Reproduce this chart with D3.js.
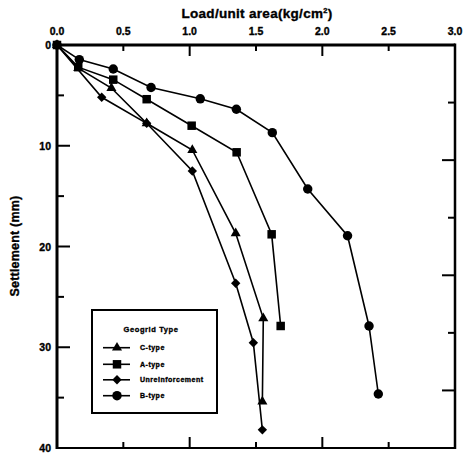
<!DOCTYPE html>
<html>
<head>
<meta charset="utf-8">
<script src="https://cdn.jsdelivr.net/npm/d3@7"></script>
<style>
  html, body { margin: 0; padding: 0; background: #fff; }
  svg { display: block; }
  text { font-family: "Liberation Sans", Arial, sans-serif; font-weight: bold; fill: #000; stroke: #000; stroke-width: 0.35; }
</style>
</head>
<body>
<script>
// Load–settlement curves for footings on geogrid-reinforced soil
const seriesNames = ["C-type", "A-type", "Unreinforcement", "B-type"];
const seriesSymbols = ["triangle", "square", "diamond", "circle"];

// load (kg/cm²) and settlement (mm) for each geogrid type
const cLoad   = [0, 0.16, 0.41, 0.676, 1.02, 1.347, 1.555, 1.548];
const cSettle = [0, 2.3, 4.27, 7.77, 10.42, 18.69, 27.13, 35.4];

const aLoad   = [0, 0.16, 0.424, 0.676, 1.015, 1.354, 1.618, 1.686];
const aSettle = [0, 2.2, 3.44, 5.38, 8.01, 10.65, 18.79, 27.89];

const uLoad   = [0, 0.337, 0.676, 1.02, 1.347, 1.48, 1.548];
const uSettle = [0, 5.19, 7.77, 12.5, 23.65, 29.55, 38.2];

const bLoad   = [0, 0.168, 0.424, 0.709, 1.08, 1.352, 1.623, 1.89, 2.19, 2.352, 2.422];
const bSettle = [0, 1.45, 2.38, 4.22, 5.34, 6.38, 8.7, 14.29, 18.93, 27.89, 34.64];

const xTickValues = [0, 0.5, 1.0, 1.5, 2.0, 2.5, 3.0];
const xTickLabels = ["0.0", "0.5", "1.0", "1.5", "2.0", "2.5", "3.0"];
const yTickValues = [0, 10, 20, 30, 40];
const yTickLabels = ["0", "10", "20", "30", "40"];
const yMinorValues = [5, 15, 25, 35];

const xTitle = "Load/unit area(kg/cm";
const yTitle = "Settlement (mm)";
const legendTitle = "Geogrid Type";

const series = [
  { name: seriesNames[0], sym: seriesSymbols[0], load: cLoad, settle: cSettle },
  { name: seriesNames[1], sym: seriesSymbols[1], load: aLoad, settle: aSettle },
  { name: seriesNames[2], sym: seriesSymbols[2], load: uLoad, settle: uSettle },
  { name: seriesNames[3], sym: seriesSymbols[3], load: bLoad, settle: bSettle }
];

const W = 465, H = 455;
const plotL = 57, plotR = 455, plotT = 45, plotB = 448;

const x = d3.scaleLinear().domain([0, 3]).range([plotL, plotR]);
const y = d3.scaleLinear().domain([0, 40]).range([plotT, plotB]);
// right-hand frame carries its own evenly spaced ticks (7 divisions)
const yR = d3.scaleLinear().domain([0, 7]).range([plotT, plotB]);

const svg = d3.select("body").append("svg")
  .attr("width", W).attr("height", H);

// Marker shapes
const diamond = {
  draw(ctx, size) {
    const r = Math.sqrt(size / 2);
    ctx.moveTo(0, -r); ctx.lineTo(r, 0); ctx.lineTo(0, r); ctx.lineTo(-r, 0); ctx.closePath();
  }
};
const symbolOf = {
  triangle: d3.symbol().type(d3.symbolTriangle).size(44),
  square: d3.symbol().type(d3.symbolSquare).size(72),
  diamond: d3.symbol().type(diamond).size(44),
  circle: d3.symbol().type(d3.symbolCircle).size(70)
};

// Frame
const frame = svg.append("g").attr("stroke", "#000").attr("fill", "none");
frame.append("line").attr("x1", x(0)).attr("x2", x(3)).attr("y1", y(0)).attr("y2", y(0)).attr("stroke-width", 3);
frame.append("line").attr("x1", x(0)).attr("x2", x(0)).attr("y1", y(0) - 1.5).attr("y2", y(40) + 1).attr("stroke-width", 3);
frame.append("line").attr("x1", x(3)).attr("x2", x(3)).attr("y1", y(0) - 1.5).attr("y2", y(40) + 1).attr("stroke-width", 2.5);
frame.append("line").attr("x1", x(0)).attr("x2", x(3)).attr("y1", y(40)).attr("y2", y(40)).attr("stroke-width", 2);

// Tick marks pointing into the plot
const inner = xTickValues.slice(1, -1);
const ticks = svg.append("g").attr("stroke", "#000").attr("stroke-width", 2);
inner.forEach((v, i) => {
  const L = (i % 2 === 1) ? 11 : 6;
  ticks.append("line").attr("x1", x(v)).attr("x2", x(v)).attr("y1", y(0)).attr("y2", y(0) + L);
  ticks.append("line").attr("x1", x(v)).attr("x2", x(v)).attr("y1", y(40)).attr("y2", y(40) - L);
});
yTickValues.slice(1, -1).forEach(v => {
  ticks.append("line").attr("x1", x(0)).attr("x2", x(0) + 13).attr("y1", y(v)).attr("y2", y(v));
});
yMinorValues.forEach(v => {
  ticks.append("line").attr("x1", x(0)).attr("x2", x(0) + 7).attr("y1", y(v)).attr("y2", y(v));
});
d3.range(1, 7).forEach(k => {
  const L = (k % 2 === 0) ? 13 : 7;
  ticks.append("line").attr("x1", x(3)).attr("x2", x(3) - L).attr("y1", yR(k)).attr("y2", yR(k));
});

// Tick labels
svg.append("g").selectAll("text").data(xTickValues).join("text")
  .attr("x", d => x(d)).attr("y", 35)
  .attr("text-anchor", "middle").attr("font-size", 10.5)
  .text((d, i) => xTickLabels[i]);
svg.append("g").selectAll("text").data(yTickValues).join("text")
  .attr("x", 51).attr("y", d => y(d) + 4)
  .attr("text-anchor", "end").attr("font-size", 10.5)
  .text((d, i) => yTickLabels[i]);

// Axis titles
const xt = svg.append("text").attr("x", 257).attr("y", 18)
  .attr("text-anchor", "middle").attr("font-size", 13.5).attr("letter-spacing", 0.3);
xt.append("tspan").text(xTitle);
xt.append("tspan").attr("font-size", 7.5).attr("dy", -5).text("2");
xt.append("tspan").attr("dy", 5).text(")");

svg.append("text")
  .attr("transform", "translate(19,246) rotate(-90)")
  .attr("text-anchor", "middle").attr("font-size", 12.5).attr("letter-spacing", 0.2)
  .text(yTitle);

// Curves
const line = d3.line().x(d => x(d[0])).y(d => y(d[1]));
series.forEach(s => {
  const pts = s.load.map((v, i) => [v, s.settle[i]]);
  svg.append("path").datum(pts)
    .attr("d", line).attr("fill", "none").attr("stroke", "#000").attr("stroke-width", 1.6);
  svg.append("g").selectAll("path").data(pts).join("path")
    .attr("transform", d => `translate(${x(d[0])},${y(d[1])})`)
    .attr("d", symbolOf[s.sym]()).attr("fill", "#000");
});

// Legend
const lg = svg.append("g");
lg.append("rect").attr("x", 92).attr("y", 310).attr("width", 125).attr("height", 103)
  .attr("fill", "#fff").attr("stroke", "#000").attr("stroke-width", 2);
lg.append("text").attr("x", 151).attr("y", 332).attr("text-anchor", "middle")
  .attr("font-size", 7.5).attr("letter-spacing", 0.6).text(legendTitle);
const rowY = [347.7, 364.3, 379.8, 395.7];
series.forEach((s, i) => {
  lg.append("line").attr("x1", 103).attr("x2", 130).attr("y1", rowY[i]).attr("y2", rowY[i])
    .attr("stroke", "#000").attr("stroke-width", 1.6);
  lg.append("path").attr("transform", `translate(117,${rowY[i]})`)
    .attr("d", symbolOf[s.sym]()).attr("fill", "#000");
  lg.append("text").attr("x", 140).attr("y", rowY[i] + 2.5)
    .attr("font-size", 7).attr("letter-spacing", 0.5).text(s.name);
});
</script>
</body>
</html>
